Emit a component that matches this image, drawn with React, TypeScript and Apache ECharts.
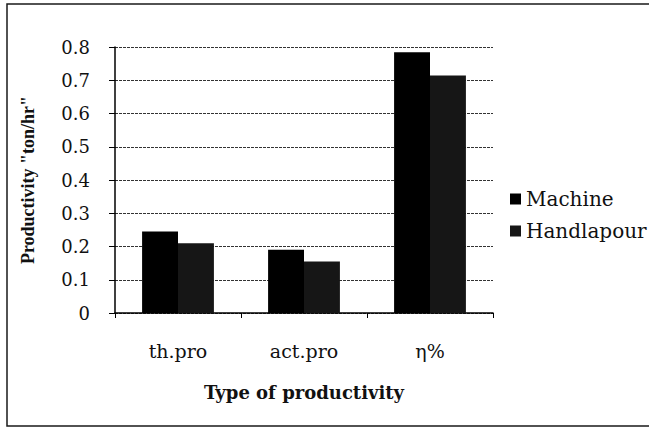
import React, { useEffect, useRef } from "react";
import * as echarts from "echarts";

const categories = ["th.pro", "act.pro", "η%"];
const machine = [0.245, 0.19, 0.784];
const handlapour = [0.21, 0.155, 0.714];
const yTicks = { min: 0, max: 0.8, interval: 0.1 };

export default function App() {
  const ref = useRef<HTMLDivElement>(null);
  useEffect(() => {
    if (!ref.current) return;
    const chart = echarts.init(ref.current, null, { renderer: "svg" });
    chart.setOption({
      animation: false,
      backgroundColor: "#fff",
      graphic: [
        {
          type: "rect",
          shape: { x: 7, y: 4, width: 700, height: 422 },
          style: { fill: "none", stroke: "#1a1a1a", lineWidth: 1.5 },
          silent: true,
        },
      ],
      grid: { left: 115, right: 156, top: 47, bottom: 115 },
      legend: {
        orient: "vertical",
        left: 505,
        top: 184,
        itemWidth: 11,
        itemHeight: 11,
        itemGap: 12,
        icon: "rect",
        textStyle: { fontFamily: "DejaVu Serif", fontSize: 20, color: "#111" },
        data: ["Machine", "Handlapour"],
      },
      xAxis: {
        type: "category",
        data: categories,
        axisLine: { lineStyle: { color: "#000", width: 1.5 } },
        axisTick: { show: true, length: 5, lineStyle: { color: "#000" } },
        axisLabel: {
          margin: 28,
          fontFamily: "DejaVu Serif",
          fontSize: 19,
          color: "#111",
        },
        name: "Type of productivity",
        nameLocation: "middle",
        nameGap: 70,
        nameTextStyle: {
          fontFamily: "DejaVu Serif",
          fontWeight: "bold",
          fontSize: 18,
          color: "#111",
        },
      },
      yAxis: {
        type: "value",
        min: yTicks.min,
        max: yTicks.max,
        interval: yTicks.interval,
        axisLine: { show: true, lineStyle: { color: "#000", width: 1.5 } },
        axisTick: { show: true, length: 6, lineStyle: { color: "#000" } },
        axisLabel: {
          margin: 25,
          fontFamily: "DejaVu Serif",
          fontSize: 18,
          color: "#111",
          formatter: (v: number) => (v === 0 ? "0" : v.toFixed(1)),
        },
        splitLine: { lineStyle: { color: "#333", type: [3, 1], width: 1.2 } },
        name: 'Productivity "ton/hr"',
        nameLocation: "middle",
        nameRotate: 90,
        nameGap: 78,
        nameTextStyle: {
          fontFamily: "Liberation Serif",
          fontWeight: "bold",
          fontSize: 18,
          color: "#111",
        },
      },
      series: [
        {
          name: "Machine",
          type: "bar",
          data: machine,
          barGap: "0%",
          barCategoryGap: "43%",
          itemStyle: { color: "#000" },
        },
        {
          name: "Handlapour",
          type: "bar",
          data: handlapour,
          itemStyle: { color: "#161616" },
        },
      ],
    });
    return () => chart.dispose();
  }, []);
  return <div ref={ref} style={{ width: 649, height: 428, position: "absolute", left: 0, top: 0 }} />;
}
